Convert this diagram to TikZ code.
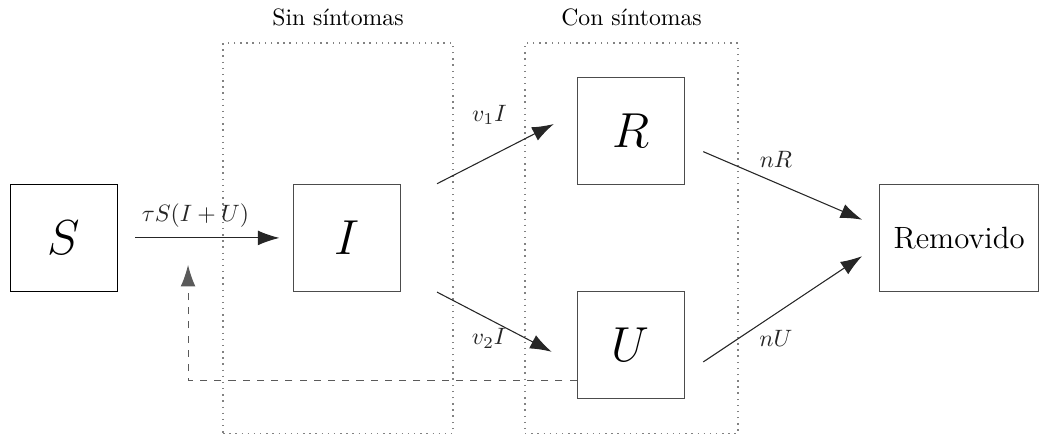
\documentclass[tikz,border=0pt]{standalone}
\usepackage{fontspec}
\usepackage{amsmath}
\usetikzlibrary{arrows.meta, positioning, calc}
\definecolor{mygray}{RGB}{90,90,90}
\definecolor{mydots}{RGB}{130,130,130}
\tikzset{
  compart/.style={rectangle, draw=black, minimum width=1.59cm,
    minimum height=1.59cm, font=\huge, inner sep=0pt, line width=0.5pt},
  groupbox/.style={rectangle, draw=mydots, dotted, minimum height=5.79cm,
    inner sep=0pt, line width=0.6pt},
  arrow/.style={-{Latex[length=3.2mm, width=2.2mm]}, color=black!85, line width=0.45pt},
  dasharrow/.style={-{Latex[length=3.2mm, width=2.2mm]}, color=mygray, dashed, line width=0.45pt},
  lbl/.style={font=\normalsize}
}
\begin{document}
\begin{tikzpicture}
  \useasboundingbox (0,0) rectangle (15.43,-6.47);

  % groups
  \node[groupbox, minimum width=3.41cm] (sinbox) at (5.015,-3.535) {};
  \node[groupbox, minimum width=3.16cm] (conbox) at (9.37,-3.535) {};
  \node[lbl, above=0.12cm of sinbox] (sintit) {Sin síntomas};
  \node[lbl, above=0.12cm of conbox] (contit) {Con síntomas};

  % compartments
  \node[compart] (S) at (0.95,-3.53) {$S$};
  \node[compart, draw=black!70] (I) at (5.15,-3.53) {$I$};
  \node[compart, draw=black!70] (R) at (9.36,-1.94) {$R$};
  \node[compart, draw=black!70] (U) at (9.36,-5.12) {$U$};
  \node[compart, draw=black!70, minimum width=2.36cm, font=\fontsize{13}{15}\selectfont] (rem) at (14.23,-3.53) {Removido};

  % flows
  \draw[arrow, shorten <=0.25cm, shorten >=0.2cm] (S) -- node[lbl, above=1pt, xshift=-0.15cm] {$\tau S(I+U)$} (I);
  \draw[arrow] ([xshift=0.53cm]I.north east) -- node[lbl, xshift=-0.09cm, yshift=0.58cm] {$v_1I$} ([xshift=-0.34cm, yshift=0.1cm]R.west);
  \draw[arrow] ([xshift=0.53cm]I.south east) -- node[lbl, xshift=-0.08cm, yshift=-0.24cm] {$v_2I$} ([xshift=-0.37cm, yshift=-0.1cm]U.west);
  \draw[arrow] ([xshift=0.27cm, yshift=-0.31cm]R.east) -- node[lbl, xshift=-0.1cm, yshift=0.39cm] {$nR$} ([xshift=-0.25cm, yshift=0.27cm]rem.west);
  \draw[arrow] ([xshift=0.27cm, yshift=-0.25cm]U.east) -- node[lbl, xshift=-0.1cm, yshift=-0.43cm] {$nU$} ([xshift=-0.25cm, yshift=-0.27cm]rem.west);

  % feedback
  \coordinate (fbtip) at (2.79,-3.93);
  \draw[dasharrow] ([yshift=0.28cm]U.south west) -| (fbtip);
\end{tikzpicture}
\end{document}
